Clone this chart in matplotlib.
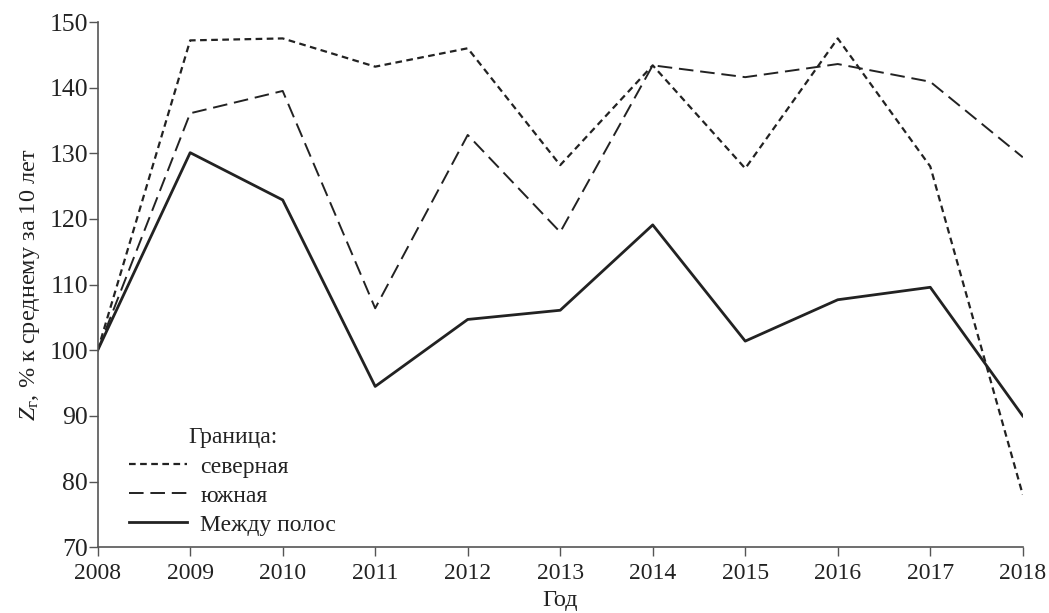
import matplotlib
matplotlib.use("Agg")
import matplotlib.pyplot as plt

years = [2008, 2009, 2010, 2011, 2012, 2013, 2014, 2015, 2016, 2017, 2018]
northern = [100, 147.2, 147.5, 143.2, 146.0, 128.2, 143.4, 127.7, 147.5, 128.0, 78.0]
southern = [100, 136.1, 139.5, 106.4, 132.8, 118.0, 143.4, 141.6, 143.6, 140.9, 129.4]
between = [100, 130.1, 122.9, 94.5, 104.7, 106.1, 119.1, 101.4, 107.7, 109.6, 90.0]
labels = ["северная", "южная", "Между полос"]
yticks = [70, 80, 90, 100, 110, 120, 130, 140, 150]

plt.rcParams['font.family'] = ['Liberation Serif', 'DejaVu Serif']
plt.rcParams['mathtext.fontset'] = 'custom'
plt.rcParams['mathtext.rm'] = 'Liberation Serif'
plt.rcParams['mathtext.it'] = 'Liberation Serif:italic'

fig = plt.figure(figsize=(10.49, 6.13), dpi=100)
ax = fig.add_axes([0.0931, 0.1072, 0.9819 - 0.0931 - 0.0069, 0.9641 - 0.1072])

col = '#222222'
ax.plot(years, northern, color=col, lw=1.6, linestyle=(0, (3, 2)), label=labels[0])
ax.plot(years, southern, color=col, lw=1.4, linestyle=(0, (7.5, 3.5)), label=labels[1])
ax.plot(years, between, color=col, lw=2.0, linestyle='-', label=labels[2])

ax.set_xlim(2008, 2018)
ax.set_ylim(70, 150)
ax.set_xticks(years)
ax.set_yticks(yticks)
for s in ['top', 'right']:
    ax.spines[s].set_visible(False)
for s in ['left', 'bottom']:
    ax.spines[s].set_color('#555555')
    ax.spines[s].set_linewidth(1.2)
ax.tick_params(axis='both', direction='out', length=6.5, width=1.0, color='#555555',
               labelcolor='#222222')
ax.tick_params(axis='y', labelsize=18.5, pad=0.5)
ax.tick_params(axis='x', labelsize=17, pad=5)

ax.set_xlabel('Год', fontsize=17.5, color='#222222', labelpad=4)
ax.set_ylabel(r'$Z_{\mathrm{г}}$, % к среднему за 10 лет', fontsize=17.5, color='#222222', labelpad=5)

leg = ax.legend(loc='lower left', bbox_to_anchor=(0.024, 0.004), frameon=False,
                title='Граница:', fontsize=17, title_fontsize=17,
                handlelength=2.45, handletextpad=0.55, labelspacing=0.32, borderaxespad=0)
for t in leg.get_texts():
    t.set_color('#222222')
leg.get_title().set_color('#222222')

fig.savefig('out.png', dpi=100)
